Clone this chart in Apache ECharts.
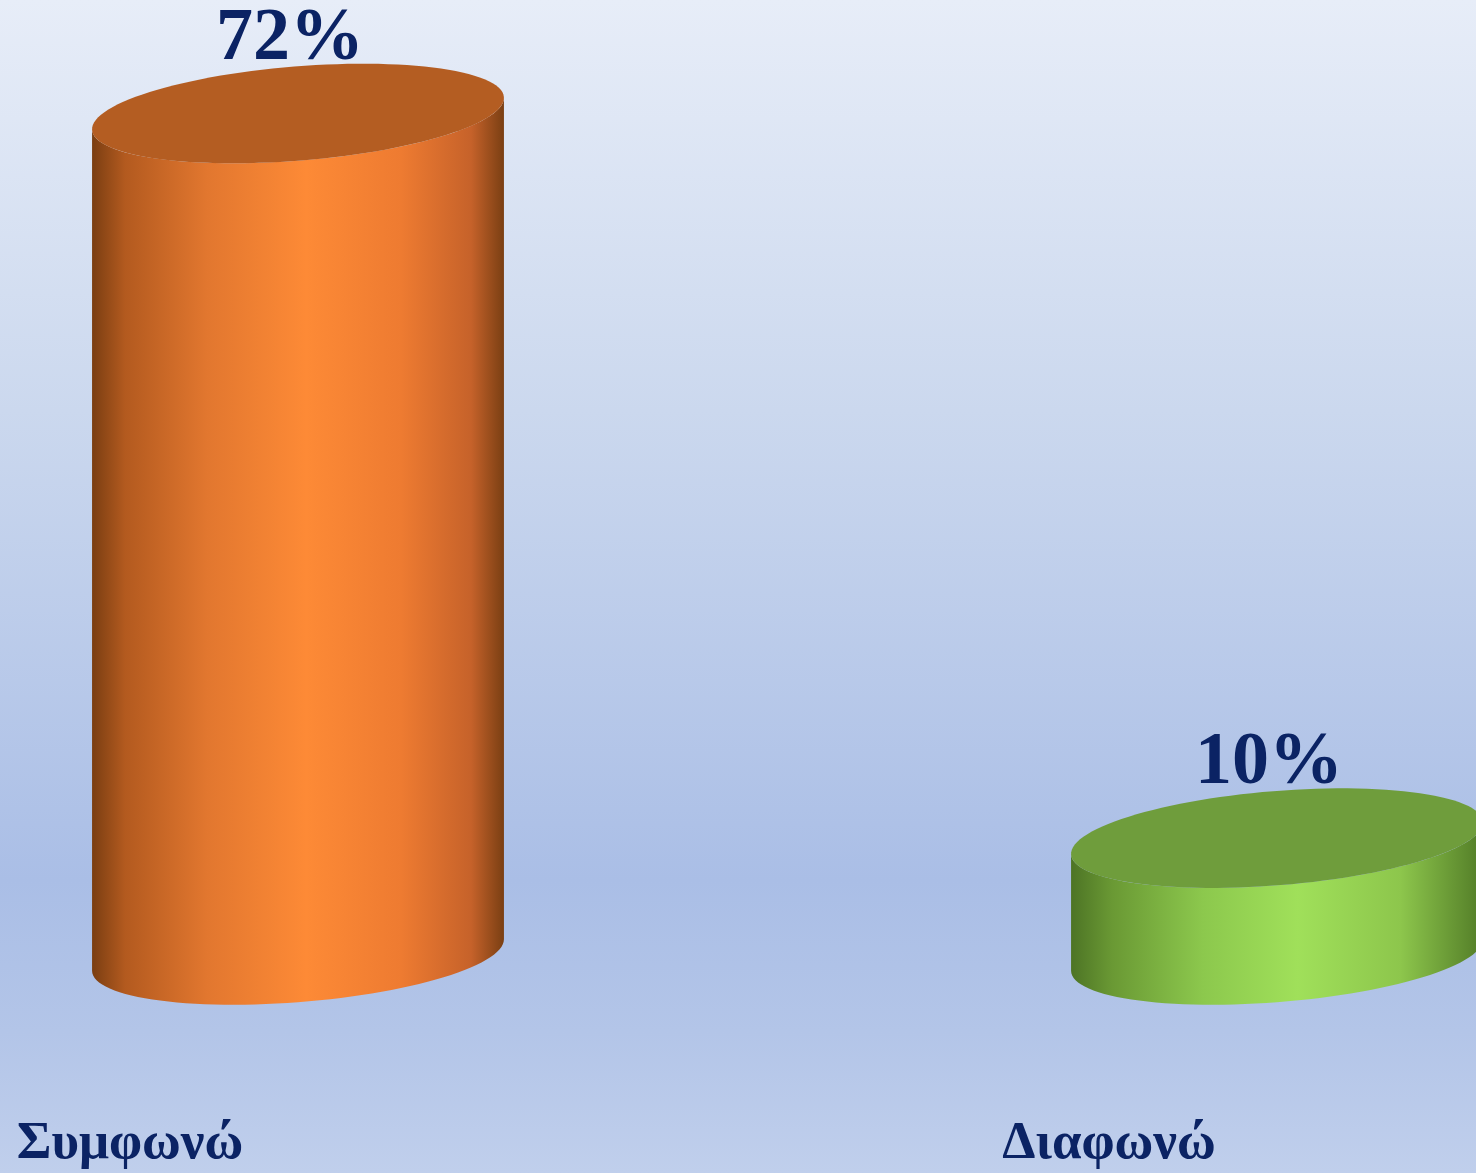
<!DOCTYPE html>
<html>
<head>
<meta charset="utf-8">
<script src="https://cdn.jsdelivr.net/npm/echarts@6/dist/echarts.min.js"></script>
<style>
  html, body { margin: 0; padding: 0; }
  #main {
    width: 1476px; height: 1173px;
    background: linear-gradient(to bottom, #e7edf8 0%, #cbd8ee 35%, #aabee6 75%, #b3c5e8 88%, #c0cfec 100%);
  }
</style>
</head>
<body>
<div id="main"></div>
<script>
  let categories = ['Συμφωνώ', 'Διαφωνώ']
  let values = [72, 10]
  let topColors = ['#b45d22', '#6f9d3c']
  let sideStops = [
    [['#7a3e12', 0], ['#b35a1f', 0.08], ['#e2772f', 0.28], ['#fd8a36', 0.52], ['#ee7b31', 0.75], ['#c6622a', 0.92], ['#7a3f13', 1]],
    [['#4d7425', 0], ['#6a9934', 0.1], ['#8cc84d', 0.32], ['#a0e05a', 0.55], ['#8dc64c', 0.8], ['#527c27', 1]]
  ]
  let textColor = '#0b2364'

  let chart = echarts.init(document.getElementById('main'))

  // top/bottom ellipses are slightly tilted (right side higher)
  let theta = -4.6 * Math.PI / 180
  let ellipsePt = (cx, cy, a, b, t) => [
    cx + a * Math.cos(t) * Math.cos(theta) - b * Math.sin(t) * Math.sin(theta),
    cy + a * Math.cos(t) * Math.sin(theta) + b * Math.sin(t) * Math.cos(theta)
  ]

  let renderCylinder = (params, api) => {
    let idx = api.value(0)
    let val = api.value(1)
    let top = api.coord([idx, val])
    let base = api.coord([idx, 0])
    let step = api.coord([1, 0])[0] - api.coord([0, 0])[0]
    let a = step * 0.211
    let b = a * 0.228
    let cx = top[0]
    let tR = Math.atan2(-b * Math.sin(theta), a * Math.cos(theta))
    let tL = tR + Math.PI
    let n = 60
    let side = []
    for (let i = 0; i <= n; i++) {
      side.push(ellipsePt(cx, base[1], a, b, tR + (tL - tR) * i / n))
    }
    for (let i = 0; i <= n; i++) {
      side.push(ellipsePt(cx, top[1], a, b, tL - (tL - tR) * i / n))
    }
    let cap = []
    for (let i = 0; i < 120; i++) {
      cap.push(ellipsePt(cx, top[1], a, b, i / 120 * Math.PI * 2))
    }
    let halfH = Math.sqrt(a * a * Math.sin(theta) ** 2 + b * b * Math.cos(theta) ** 2)
    return {
      type: 'group',
      children: [
        {
          type: 'polygon',
          shape: { points: side },
          style: {
            fill: new echarts.graphic.LinearGradient(0, 0, 1, 0,
              sideStops[idx].map(s => ({ offset: s[1], color: s[0] })))
          }
        },
        {
          type: 'polygon',
          shape: { points: cap },
          style: { fill: topColors[idx] }
        },
        {
          type: 'text',
          x: cx - 8,
          y: top[1] - halfH - 24,
          style: {
            text: api.value(1) + '%',
            font: 'bold 74px "Liberation Serif", "Times New Roman", serif',
            fill: textColor,
            align: 'center',
            verticalAlign: 'middle'
          }
        }
      ]
    }
  }

  chart.setOption({
    animation: false,
    grid: { left: 298, right: 199, top: 20, bottom: 218 },
    xAxis: {
      type: 'category',
      data: categories,
      boundaryGap: false,
      axisLine: { show: false },
      axisTick: { show: false },
      axisLabel: {
        interval: 0,
        margin: 163,
        padding: [0, 336, 0, 0],
        color: textColor,
        fontFamily: '"Liberation Serif", "Times New Roman", serif',
        fontWeight: 'bold',
        fontSize: 53
      }
    },
    yAxis: {
      type: 'value',
      min: 0,
      max: 80,
      show: false,
      splitLine: { show: false }
    },
    series: [{
      type: 'custom',
      renderItem: renderCylinder,
      clip: false,
      encode: { x: 0, y: 1 },
      data: values.map((v, i) => [i, v])
    }]
  })
</script>
</body>
</html>
